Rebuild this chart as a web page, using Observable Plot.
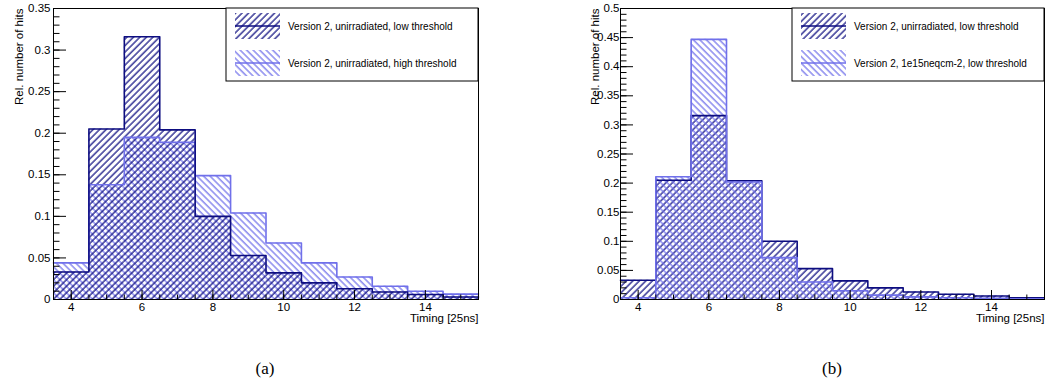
<!DOCTYPE html>
<html><head><meta charset="utf-8">
<script src="https://cdn.jsdelivr.net/npm/d3@7"></script>
<script src="https://cdn.jsdelivr.net/npm/@observablehq/plot@0.6"></script>
<style>
html,body{margin:0;padding:0;background:#fff;}
#wrap{position:relative;width:1045px;height:382px;overflow:hidden;background:#fff;}
.panel{position:absolute;top:0;}
.cap{position:absolute;top:359px;font-family:"Liberation Serif","Times New Roman",serif;font-size:17px;transform:translateX(-50%);color:#000;}
</style></head><body><div id="wrap"></div>
<script>
// Bin centres (Timing [25ns])
const bins = [4, 5, 6, 7, 8, 9, 10, 11, 12, 13, 14, 15];
// Version 2, unirradiated, low threshold
const lowThreshold = [0.033, 0.205, 0.316, 0.204, 0.100, 0.053, 0.032, 0.020, 0.013, 0.009, 0.006, 0.003];
// Version 2, unirradiated, high threshold
const highThreshold = [0.044, 0.138, 0.195, 0.189, 0.149, 0.104, 0.068, 0.044, 0.027, 0.016, 0.010, 0.0065];
// Version 2, 1e15neqcm-2, low threshold
const irradiated = [0.003, 0.211, 0.447, 0.202, 0.072, 0.030, 0.015, 0.0075, 0.0045, 0.003, 0.002, 0.001];

const xTicks = [4, 6, 8, 10, 12, 14];
const yTicksA = [0, 0.05, 0.1, 0.15, 0.2, 0.25, 0.3, 0.35];
const yTicksB = [0, 0.05, 0.1, 0.15, 0.2, 0.25, 0.3, 0.35, 0.4, 0.45, 0.5];
const labelsA = ["Version 2, unirradiated, low threshold", "Version 2, unirradiated, high threshold"];
const labelsB = ["Version 2, unirradiated, low threshold", "Version 2, 1e15neqcm-2, low threshold"];
const captions = ["(a)", "(b)"];
const xLabel = "Timing [25ns]";
const yLabel = "Rel. number of hits";

const darkColor = "#0d0d80";
const lightColor = "#7070ea";
const FONT = '"Liberation Sans", Arial, Helvetica, sans-serif';

function histRows(values) {
  return bins.map((b, i) => ({x1: b - 0.5, x2: b + 0.5, v: values[i]}));
}
function stepRows(values) {
  const rows = bins.map((b, i) => ({x: b - 0.5, v: values[i]}));
  rows.push({x: bins[bins.length - 1] + 0.5, v: values[values.length - 1]});
  return rows;
}
const fmt = d => String(+d.toFixed(2));

function makePanel(cfg) {
  const {pid, series, drawOrder, yMax, yTicks, width, marginLeft, marginRight, yLabelDx, tickPadY, labels} = cfg;
  const height = 335, marginTop = 8, marginBottom = 36;
  const minorY = d3.range(0, yMax + 1e-9, 0.01);
  const minorX = d3.range(4, 15.51, 0.5);
  const fills = drawOrder.map(k => Plot.rectY(histRows(series[k].values), {x1: "x1", x2: "x2", y: "v", fill: `url(#${pid}-${k})`}));
  const lines = drawOrder.map(k => Plot.line(stepRows(series[k].values), {x: "x", y: "v", curve: "step-after", stroke: series[k].color, strokeWidth: 1.6}));
  const svg = Plot.plot({
    width, height, marginLeft, marginRight, marginTop, marginBottom,
    style: {fontFamily: FONT, fontSize: "11.5px", background: "white", overflow: "visible", color: "black"},
    x: {domain: [3.5, 15.5]},
    y: {domain: [0, yMax]},
    marks: [
      ...fills,
      ...lines,
      Plot.axisY(minorY, {tickSize: -6.5, fill: "none", label: null, stroke: "black"}),
      Plot.axisY(yTicks, {tickSize: -13, fill: "none", label: null, stroke: "black"}),
      Plot.axisY(yTicks, {tickSize: 0, tickPadding: tickPadY, tickFormat: fmt, label: null, fill: "black", fontSize: 11.5}),
      Plot.axisX(minorX, {tickSize: -4.5, fill: "none", label: null, stroke: "black"}),
      Plot.axisX(xTicks, {tickSize: -9, fill: "none", label: null, stroke: "black"}),
      Plot.axisX(xTicks, {tickSize: 0, tickPadding: 3, label: null, fill: "black", fontSize: 11.5}),
      Plot.frame({stroke: "black", strokeWidth: 1}),
      Plot.text([xLabel], {frameAnchor: "bottom-right", textAnchor: "end", dy: 22, fontSize: 11.5, fill: "black"}),
      Plot.text([yLabel], {frameAnchor: "top-left", rotate: -90, textAnchor: "end", dx: yLabelDx, dy: 0, fontSize: 11.5, fill: "black"})
    ]
  });
  const s = d3.select(svg);
  const defs = s.insert("defs", ":first-child");
  for (const k of Object.keys(series)) {
    const sp = 4.6;
    const p = defs.append("pattern").attr("id", `${pid}-${k}`).attr("patternUnits", "userSpaceOnUse")
      .attr("width", sp).attr("height", sp).attr("patternTransform", `rotate(${series[k].angle})`);
    p.append("line").attr("x1", 1).attr("y1", -1).attr("x2", 1).attr("y2", sp + 1)
      .attr("stroke", series[k].color).attr("stroke-width", 1.25);
  }
  // legend box (top-right inside the frame)
  const right = width - marginRight, top = marginTop;
  const boxW = 252, boxH = 73;
  const g = s.append("g").attr("font-family", FONT).attr("font-size", 10).attr("text-anchor", "start");
  g.append("rect").attr("x", right - boxW).attr("y", top).attr("width", boxW).attr("height", boxH)
    .attr("fill", "white").attr("stroke", "black").attr("stroke-width", 1);
  ["dark", "light"].forEach((k, i) => {
    const cy = top + 18 + i * 37;
    const x0 = right - boxW + 9;
    g.append("rect").attr("x", x0).attr("y", cy - 13).attr("width", 45).attr("height", 26).attr("fill", `url(#${pid}-${k})`);
    g.append("line").attr("x1", x0).attr("x2", x0 + 45).attr("y1", cy).attr("y2", cy)
      .attr("stroke", series[k].color).attr("stroke-width", 1.6);
    g.append("text").attr("x", right - boxW + 62).attr("y", cy).attr("dy", "0.35em")
      .attr("text-anchor", "start").attr("fill", "black").text(labels[i]);
  });
  return svg;
}

const wrap = document.getElementById("wrap");

const svgA = makePanel({
  pid: "pa",
  series: {
    dark: {values: lowThreshold, color: darkColor, angle: 45},
    light: {values: highThreshold, color: lightColor, angle: -45}
  },
  drawOrder: ["light", "dark"],
  yMax: 0.35, yTicks: yTicksA, width: 522, marginLeft: 53, marginRight: 44,
  yLabelDx: -39, tickPadY: 3, labels: labelsA
});
svgA.classList.add("panel"); svgA.style.left = "0px";
wrap.appendChild(svgA);

const svgB = makePanel({
  pid: "pb",
  series: {
    dark: {values: lowThreshold, color: darkColor, angle: 45},
    light: {values: irradiated, color: lightColor, angle: -45}
  },
  drawOrder: ["dark", "light"],
  yMax: 0.5, yTicks: yTicksB, width: 523, marginLeft: 98, marginRight: 1,
  yLabelDx: -30, tickPadY: 1, labels: labelsB
});
svgB.classList.add("panel"); svgB.style.left = "522px";
wrap.appendChild(svgB);

[[captions[0], 265], [captions[1], 832]].forEach(([t, x]) => {
  const d = document.createElement("div");
  d.className = "cap"; d.style.left = x + "px"; d.textContent = t;
  wrap.appendChild(d);
});
</script>
</body></html>
